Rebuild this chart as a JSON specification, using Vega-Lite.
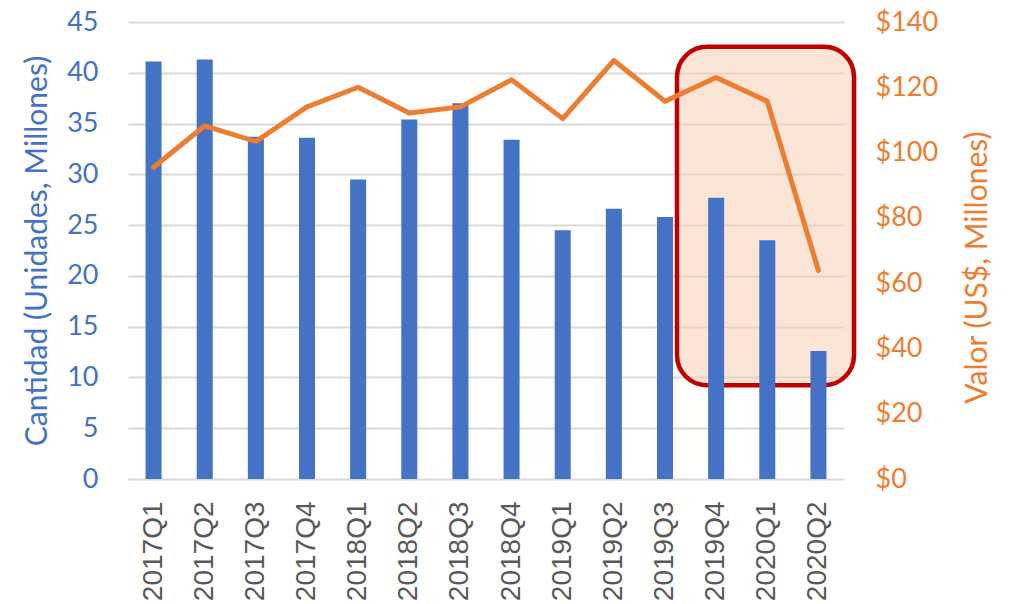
{
  "$schema": "https://vega.github.io/schema/vega-lite/v6.json",
  "width": 716,
  "height": 457,
  "autosize": "none",
  "padding": {"left": 128, "top": 22, "right": 174, "bottom": 125},
  "config": {"view": {"stroke": null}, "font": "Lato"},
  "layer": [
    {
      "data": {"values": [{"desde": 10.735, "hasta": 14.196, "bajo": 28.7, "alto": 132.4}]},
      "mark": {"type": "rect", "cornerRadius": 30, "fill": "#F8CBAD", "fillOpacity": 0.5, "stroke": "#C00000", "strokeWidth": 4.5},
      "encoding": {
        "x": {"field": "desde", "type": "quantitative", "scale": {"domain": [0, 14], "nice": false, "zero": false}, "axis": null},
        "x2": {"field": "hasta"},
        "y": {"field": "bajo", "type": "quantitative", "scale": {"domain": [0, 140], "nice": false}, "axis": null},
        "y2": {"field": "alto"}
      }
    },
    {
      "data": {"values": [
        {"trimestre": "2017Q1", "cantidad": 41.1, "valor": 95.5},
        {"trimestre": "2017Q2", "cantidad": 41.3, "valor": 108.2},
        {"trimestre": "2017Q3", "cantidad": 33.7, "valor": 103.4},
        {"trimestre": "2017Q4", "cantidad": 33.6, "valor": 114.0},
        {"trimestre": "2018Q1", "cantidad": 29.5, "valor": 120.0},
        {"trimestre": "2018Q2", "cantidad": 35.4, "valor": 112.1},
        {"trimestre": "2018Q3", "cantidad": 37.0, "valor": 114.0},
        {"trimestre": "2018Q4", "cantidad": 33.4, "valor": 122.3},
        {"trimestre": "2019Q1", "cantidad": 24.5, "valor": 110.4},
        {"trimestre": "2019Q2", "cantidad": 26.6, "valor": 128.2},
        {"trimestre": "2019Q3", "cantidad": 25.8, "valor": 115.7},
        {"trimestre": "2019Q4", "cantidad": 27.7, "valor": 123.0},
        {"trimestre": "2020Q1", "cantidad": 23.5, "valor": 115.7},
        {"trimestre": "2020Q2", "cantidad": 12.6, "valor": 63.9}
      ]},
      "layer": [
        {
          "mark": {"type": "bar", "color": "#4472C4"},
          "encoding": {
            "x": {"field": "trimestre", "type": "nominal", "sort": null,
              "scale": {"paddingInner": 0.687, "paddingOuter": 0.3435},
              "axis": {"title": null, "labelAngle": -90, "labelFont": "Liberation Sans", "labelFontSize": 28, "labelColor": "#595959", "labelPadding": 22, "domain": false, "ticks": false, "grid": false}},
            "y": {"field": "cantidad", "type": "quantitative",
              "scale": {"domain": [0, 45], "nice": false},
              "axis": {"title": "Cantidad (Unidades, Millones)", "titleFont": "Lato", "titleFontSize": 30, "titleFontWeight": "normal", "titleColor": "#4472C4", "titlePadding": 14,
                "values": [0, 5, 10, 15, 20, 25, 30, 35, 40, 45], "labelFont": "Lato", "labelFontSize": 27, "labelColor": "#4472C4", "labelPadding": 30,
                "domain": false, "ticks": false, "grid": true, "gridColor": "#D9D9D9", "gridWidth": 2}}
          }
        },
        {
          "mark": {"type": "line", "color": "#ED7D31", "strokeWidth": 5, "strokeCap": "round", "strokeJoin": "round"},
          "encoding": {
            "x": {"field": "trimestre", "type": "nominal", "sort": null},
            "y": {"field": "valor", "type": "quantitative",
              "scale": {"domain": [0, 140], "nice": false},
              "axis": {"orient": "right", "title": "Valor (US$, Millones)", "titleFont": "Lato", "titleFontSize": 30, "titleFontWeight": "normal", "titleColor": "#ED7D31", "titleAngle": 270, "titleBaseline": "top", "titlePadding": 25, "titleY": 245,
                "values": [0, 20, 40, 60, 80, 100, 120, 140], "format": "$.0f", "labelFont": "Lato", "labelFontSize": 27, "labelColor": "#ED7D31", "labelPadding": 31,
                "domain": false, "ticks": false, "grid": false}}
          }
        }
      ],
      "resolve": {"scale": {"y": "independent"}}
    }
  ],
  "resolve": {"scale": {"x": "independent", "y": "independent"}}
}
